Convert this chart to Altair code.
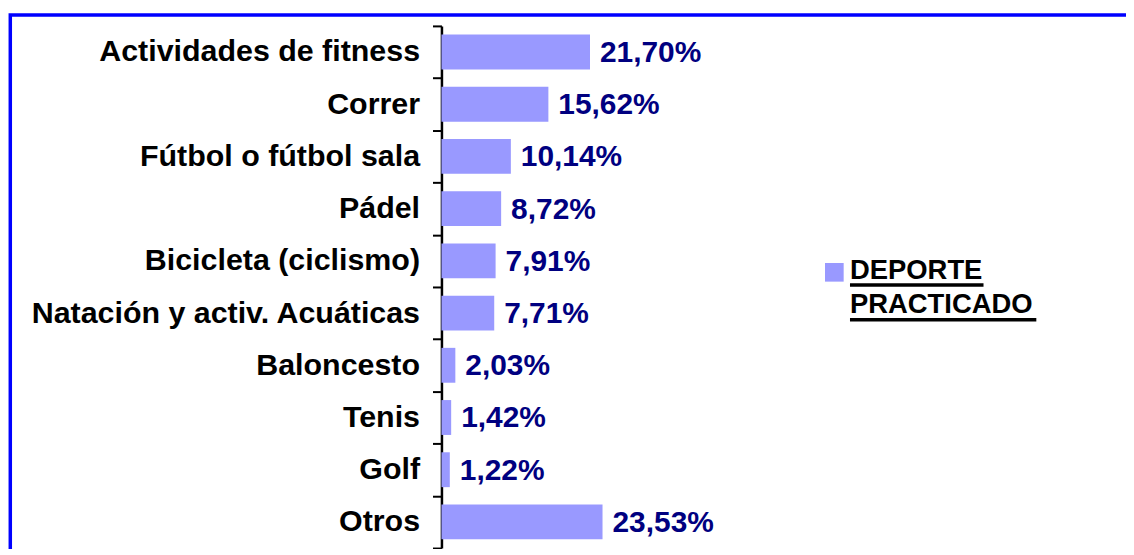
import altair as alt
import pandas as pd

categories = ["Actividades de fitness", "Correr", "Fútbol o fútbol sala", "Pádel",
              "Bicicleta (ciclismo)", "Natación y activ. Acuáticas", "Baloncesto",
              "Tenis", "Golf", "Otros"]
values = [21.70, 15.62, 10.14, 8.72, 7.91, 7.71, 2.03, 1.42, 1.22, 23.53]
series_name = "DEPORTE PRACTICADO"
legend_lines = ["DEPORTE", "PRACTICADO"]

labels = [f"{v:.2f}".replace(".", ",") + "%" for v in values]
df = pd.DataFrame({"cat": categories, "val": values, "lbl": labels, "serie": series_name})
one = pd.DataFrame({"k": [0]})

BAR = "#9999FF"
NAVY = "#000080"
FONT = "Liberation Sans"

y_enc = alt.Y("cat:N", sort=None, title=None,
              scale=alt.Scale(paddingInner=0, paddingOuter=0),
              axis=alt.Axis(tickBand="extent", labelFont=FONT, labelFontSize=30.5,
                            labelFontWeight="bold", labelColor="black", labelPadding=13,
                            labelLimit=0, tickSize=9, tickWidth=2, tickColor="black",
                            domainColor="black", domainWidth=2.5, grid=False))
x_enc = alt.X("val:Q", scale=alt.Scale(domain=[0, 100]), axis=None)

bars = alt.Chart(df).mark_bar(size=35, color=BAR).encode(x=x_enc, y=y_enc)
texts = alt.Chart(df).mark_text(align="left", baseline="middle", dx=10, dy=1, font=FONT,
                                fontSize=30, fontWeight="bold", color=NAVY).encode(
    x=x_enc, y=alt.Y("cat:N", sort=None), text="lbl:N")

border = alt.Chart(one).mark_rect(fill="transparent", stroke="#0000FF", strokeWidth=3.5).encode(
    x=alt.value(-432.7), x2=alt.value(800), y=alt.value(-11), y2=alt.value(700))

leg_sq = alt.Chart(one).mark_square(size=350, color=BAR, opacity=1).encode(
    x=alt.value(394.3), y=alt.value(247.3))
leg_t1 = alt.Chart(one).mark_text(align="left", baseline="alphabetic", font=FONT,
                                  fontSize=27.5, fontWeight="bold", color="black").encode(
    x=alt.value(410), y=alt.value(254.5), text=alt.value(legend_lines[0]))
leg_t2 = alt.Chart(one).mark_text(align="left", baseline="alphabetic", font=FONT,
                                  fontSize=27.5, fontWeight="bold", color="black").encode(
    x=alt.value(410), y=alt.value(288), text=alt.value(legend_lines[1]))
ul1 = alt.Chart(one).mark_rule(color="black", strokeWidth=3.5).encode(
    x=alt.value(410), x2=alt.value(544), y=alt.value(260))
ul2 = alt.Chart(one).mark_rule(color="black", strokeWidth=3.5).encode(
    x=alt.value(410), x2=alt.value(597), y=alt.value(295))

chart = alt.layer(border, bars, texts, leg_sq, leg_t1, leg_t2, ul1, ul2).properties(
    width=687, height=524,
    autosize=alt.AutoSizeParams(type="none"),
    padding={"left": 435, "top": 17, "right": 0, "bottom": 0},
).configure_view(stroke=None)

chart.save("out.html", embed_options={"renderer": "svg", "actions": False})
